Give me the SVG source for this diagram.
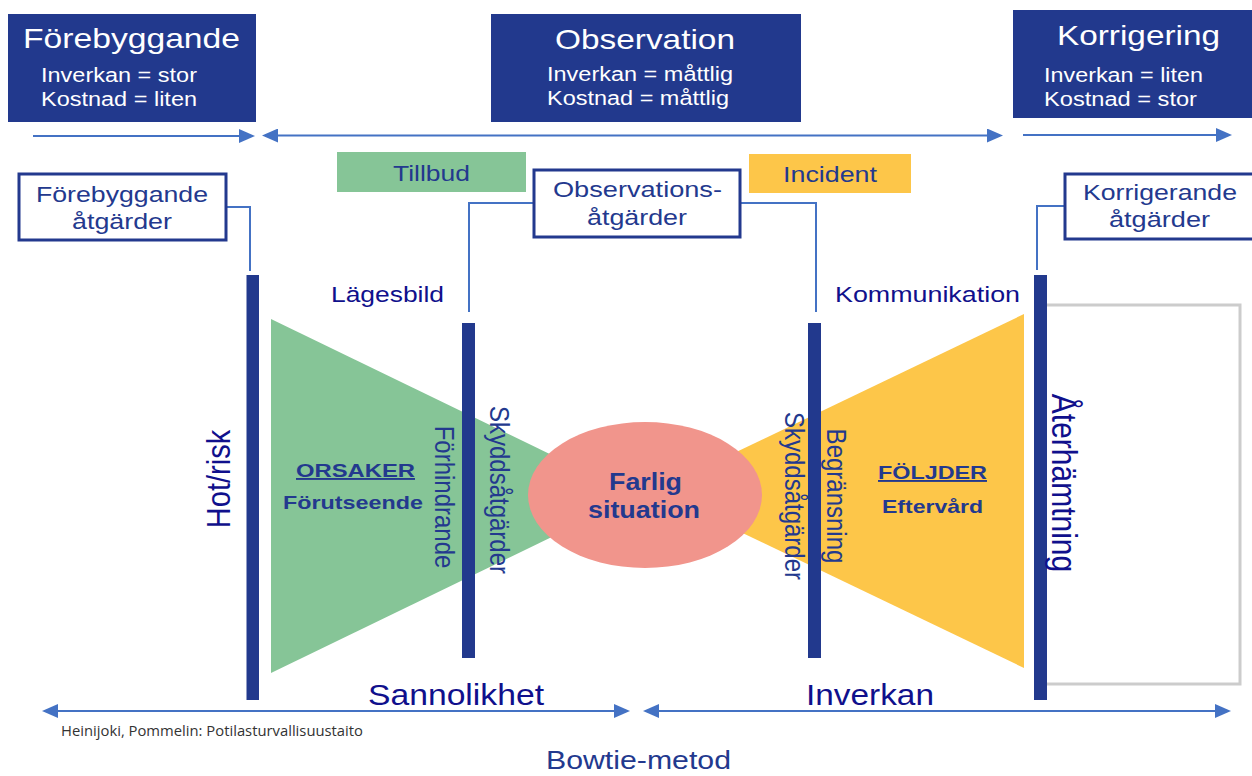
<svg xmlns="http://www.w3.org/2000/svg" width="1252" height="776" viewBox="0 0 1252 776">
<defs>
<style>
.hdr{fill:#22398d}
.ht{font-family:"Liberation Sans",Arial,sans-serif;fill:#ffffff}
.t{font-family:"Liberation Sans",Arial,sans-serif;fill:#23398e}
.d{font-family:"Liberation Sans",Arial,sans-serif;fill:#10108c}
.b{font-family:"Liberation Sans",Arial,sans-serif;fill:#23398e;font-weight:bold}
.box{fill:#ffffff;stroke:#23398e;stroke-width:3}
.con{fill:none;stroke:#4472c4;stroke-width:2}
.arr{stroke:#4472c4;stroke-width:2;fill:none}
.bar{fill:#22398d}
</style>
<marker id="ah" viewBox="0 0 16 14" refX="13" refY="7" markerWidth="16" markerHeight="14" markerUnits="userSpaceOnUse" orient="auto-start-reverse">
<path d="M0,0 L16,7 L0,14 z" fill="#4472c4"/>
</marker>
</defs>
<rect width="1252" height="776" fill="#ffffff"/>

<g id="hdr-forebyggande">
<rect class="hdr" x="8" y="14" width="248" height="108"/>
<text class="ht" x="23" y="48" font-size="28" textLength="217" lengthAdjust="spacingAndGlyphs">Förebyggande</text>
<text class="ht" x="41" y="82" font-size="20" textLength="156" lengthAdjust="spacingAndGlyphs">Inverkan = stor</text>
<text class="ht" x="41" y="106" font-size="20" textLength="156" lengthAdjust="spacingAndGlyphs">Kostnad = liten</text>
</g>
<g id="hdr-observation">
<rect class="hdr" x="491" y="14" width="310" height="108"/>
<text class="ht" x="555" y="49" font-size="28" textLength="180" lengthAdjust="spacingAndGlyphs">Observation</text>
<text class="ht" x="547" y="81" font-size="20" textLength="186" lengthAdjust="spacingAndGlyphs">Inverkan = måttlig</text>
<text class="ht" x="547" y="105" font-size="20" textLength="182" lengthAdjust="spacingAndGlyphs">Kostnad = måttlig</text>
</g>
<g id="hdr-korrigering">
<rect class="hdr" x="1013" y="10" width="239" height="108"/>
<text class="ht" x="1057" y="45" font-size="28" textLength="163" lengthAdjust="spacingAndGlyphs">Korrigering</text>
<text class="ht" x="1044" y="82" font-size="20" textLength="159" lengthAdjust="spacingAndGlyphs">Inverkan = liten</text>
<text class="ht" x="1044" y="106" font-size="20" textLength="153" lengthAdjust="spacingAndGlyphs">Kostnad = stor</text>
</g>

<g id="shapes">
<polygon points="271,319 560,459 560,533 271,673" fill="#86c597"/>
<polygon points="1024,314 730,455 730,527 1024,668" fill="#fdc649"/>
<rect x="1040" y="305" width="200" height="379" fill="#ffffff" stroke="#cccccc" stroke-width="3"/>
</g>

<g id="node-farlig">
<ellipse cx="645" cy="495" rx="117" ry="73" fill="#f1958c"/>
<text class="b" x="609" y="490" font-size="23" textLength="73" lengthAdjust="spacingAndGlyphs">Farlig</text>
<text class="b" x="588" y="518" font-size="23" textLength="112" lengthAdjust="spacingAndGlyphs">situation</text>
</g>

<g id="bars">
<rect class="bar" x="246.5" y="275" width="12.5" height="425"/>
<rect class="bar" x="462" y="323" width="13" height="335"/>
<rect class="bar" x="808" y="323" width="13" height="335"/>
<rect class="bar" x="1034" y="275" width="13" height="425"/>
</g>

<g id="connectors">
<polyline class="con" points="226,207 250,207 250,271"/>
<polyline class="con" points="533,203 469,203 469,312"/>
<polyline class="con" points="740,203 816,203 816,312"/>
<polyline class="con" points="1065,206 1037,206 1037,270"/>
<line class="arr" x1="33" y1="136" x2="252" y2="136" marker-end="url(#ah)"/>
<line class="arr" x1="265" y1="135.5" x2="1000" y2="135.5" marker-start="url(#ah)" marker-end="url(#ah)"/>
<line class="arr" x1="1023" y1="135" x2="1229" y2="135" marker-end="url(#ah)"/>
<line class="arr" x1="45" y1="711" x2="627" y2="711" marker-start="url(#ah)" marker-end="url(#ah)"/>
<line class="arr" x1="646" y1="711" x2="1228" y2="711" marker-start="url(#ah)" marker-end="url(#ah)"/>
</g>

<g id="node-tillbud">
<rect x="337" y="152" width="189" height="40" fill="#86c597"/>
<text class="t" x="393" y="181" font-size="22" textLength="77" lengthAdjust="spacingAndGlyphs">Tillbud</text>
</g>
<g id="node-incident">
<rect x="749" y="154" width="162" height="39" fill="#fdc649"/>
<text class="t" x="783" y="182" font-size="22" textLength="94" lengthAdjust="spacingAndGlyphs">Incident</text>
</g>
<g id="node-forebyggande-atgarder">
<rect class="box" x="19" y="174" width="207" height="66"/>
<text class="t" x="36" y="202" font-size="22" textLength="172" lengthAdjust="spacingAndGlyphs">Förebyggande</text>
<text class="t" x="72" y="229" font-size="22" textLength="100" lengthAdjust="spacingAndGlyphs">åtgärder</text>
</g>
<g id="node-observations-atgarder">
<rect class="box" x="534" y="170" width="206" height="67"/>
<text class="t" x="553" y="197" font-size="22" textLength="169" lengthAdjust="spacingAndGlyphs">Observations-</text>
<text class="t" x="587" y="225" font-size="22" textLength="100" lengthAdjust="spacingAndGlyphs">åtgärder</text>
</g>
<g id="node-korrigerande-atgarder">
<rect class="box" x="1065" y="174" width="195" height="65"/>
<text class="t" x="1083" y="200" font-size="22" textLength="154" lengthAdjust="spacingAndGlyphs">Korrigerande</text>
<text class="t" x="1109" y="227" font-size="22" textLength="101" lengthAdjust="spacingAndGlyphs">åtgärder</text>
</g>

<g id="labels">
<text class="d" x="331" y="302" font-size="22" textLength="113" lengthAdjust="spacingAndGlyphs">Lägesbild</text>
<text class="d" x="835" y="302" font-size="22" textLength="185" lengthAdjust="spacingAndGlyphs">Kommunikation</text>
<text class="b" x="296" y="477" font-size="19" textLength="119" lengthAdjust="spacingAndGlyphs" text-decoration="underline">ORSAKER</text>
<text class="b" x="283" y="509" font-size="19" textLength="140" lengthAdjust="spacingAndGlyphs">Förutseende</text>
<text class="b" x="878" y="479" font-size="19" textLength="109" lengthAdjust="spacingAndGlyphs" text-decoration="underline">FÖLJDER</text>
<text class="b" x="882" y="513" font-size="19" textLength="101" lengthAdjust="spacingAndGlyphs">Eftervård</text>
<text class="d" font-size="29" text-anchor="middle" transform="translate(230,479) scale(1.15,1) rotate(-90)">Hot/risk</text>
<text class="t" font-size="24" text-anchor="middle" transform="translate(435,497) scale(1.15,1) rotate(90)">Förhindrande</text>
<text class="t" font-size="24" text-anchor="middle" transform="translate(490,490) scale(1.15,1) rotate(90)">Skyddsåtgärder</text>
<text class="t" font-size="24" text-anchor="middle" transform="translate(785,496) scale(1.15,1) rotate(90)">Skyddsåtgärder</text>
<text class="t" font-size="24" text-anchor="middle" transform="translate(827,496) scale(1.15,1) rotate(90)">Begränsning</text>
<text class="d" font-size="30" text-anchor="middle" transform="translate(1052,483) scale(1.15,1) rotate(90)">Återhämtning</text>
<text class="d" x="368" y="705" font-size="30" textLength="176" lengthAdjust="spacingAndGlyphs">Sannolikhet</text>
<text class="d" x="806" y="705" font-size="30" textLength="128" lengthAdjust="spacingAndGlyphs">Inverkan</text>
<text x="61" y="736" font-family="'Open Sans','Noto Sans',sans-serif" font-size="14" fill="#333333" textLength="302" lengthAdjust="spacingAndGlyphs">Heinijoki, Pommelin: Potilasturvallisuustaito</text>
<text class="t" x="546" y="769" font-size="25" textLength="185" lengthAdjust="spacingAndGlyphs">Bowtie-metod</text>
</g>
</svg>
